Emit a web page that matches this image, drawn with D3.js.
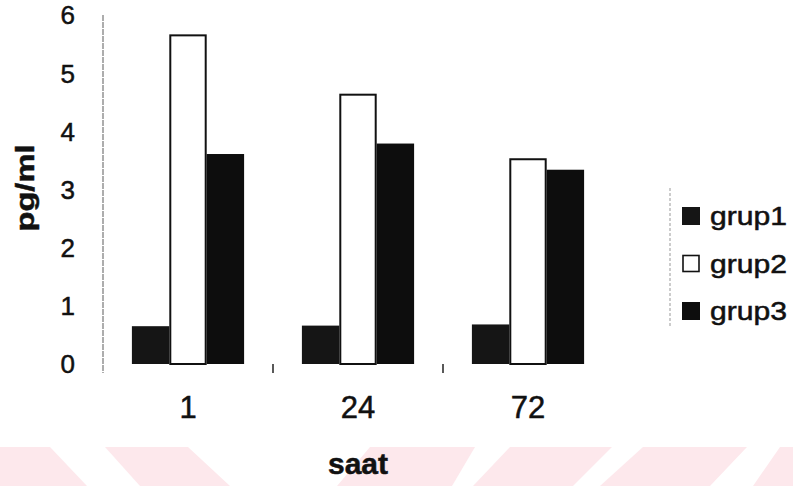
<!DOCTYPE html>
<html>
<head>
<meta charset="utf-8">
<script src="https://cdn.jsdelivr.net/npm/d3@7/dist/d3.min.js"></script>
<style>
  html, body { margin: 0; padding: 0; background: #fff; }
  svg { display: block; }
  text { font-family: "Liberation Sans", Arial, sans-serif; fill: #111; stroke: #111; stroke-width: 0.5px; }
</style>
</head>
<body>
<svg id="chart" width="793" height="486"></svg>
<script>
// Categories (hours) and the three group series, pg/ml
const saat = ["1", "24", "72"];
const grup1 = [0.65, 0.66, 0.68];
const grup2 = [5.65, 4.63, 3.52];
const grup3 = [3.61, 3.79, 3.34];
const seriesNames = ["grup1", "grup2", "grup3"];
const yTicks = [0, 1, 2, 3, 4, 5, 6];

const svg = d3.select("#chart");

// Light striped band along the bottom of the page
const band = svg.append("g").attr("class", "band");
band.append("rect").attr("x", 0).attr("y", 447).attr("width", 793).attr("height", 39).attr("fill", "#fde8ec");
const gaps = [
  [[50, 447], [105, 447], [140, 486], [87, 486]],
  [[188, 447], [370, 447], [337, 486], [230, 486]],
  [[475, 447], [510, 447], [473, 486], [452, 486]],
  [[612, 447], [643, 447], [600, 486], [573, 486]],
  [[747, 447], [780, 447], [753, 486], [710, 486]]
];
band.selectAll("polygon").data(gaps).join("polygon")
  .attr("points", d => d.map(p => p.join(",")).join(" "))
  .attr("fill", "#fff");

const plot = { left: 103, right: 613, top: 15, bottom: 364 };

const x0 = d3.scaleBand().domain(saat)
  .range([plot.left, plot.right]).paddingInner(0.34).paddingOuter(0.17);
const x1 = d3.scaleBand().domain(seriesNames).range([0, x0.bandwidth()]);
const y = d3.scaleLinear().domain([0, 6]).range([plot.bottom, plot.top]);

const fills = { grup1: "#151515", grup2: "#fff", grup3: "#0d0d0d" };
const rows = saat.map((s, i) => ({
  saat: s,
  values: [
    { key: "grup1", v: grup1[i] },
    { key: "grup2", v: grup2[i] },
    { key: "grup3", v: grup3[i] }
  ]
}));

// Y axis line
svg.append("line")
  .attr("x1", plot.left).attr("x2", plot.left)
  .attr("y1", plot.top).attr("y2", plot.bottom + 9)
  .attr("stroke", "#777").attr("stroke-width", 1.2)
  .attr("stroke-dasharray", "6,1");

// Y tick labels
svg.append("g").selectAll("text").data(yTicks).join("text")
  .attr("x", 75).attr("y", d => y(d)).attr("dy", "0.36em")
  .attr("text-anchor", "end").attr("font-size", 26)
  .text(d => d);

// Category separators below the baseline
const seps = saat.slice(1).map(s => x0(s) - x0.step() * x0.paddingInner() / 2);
svg.append("g").selectAll("line").data(seps).join("line")
  .attr("x1", d => d).attr("x2", d => d)
  .attr("y1", plot.bottom).attr("y2", plot.bottom + 9)
  .attr("stroke", "#222").attr("stroke-width", 1.5);

// Bars
const groups = svg.append("g").selectAll("g").data(rows).join("g")
  .attr("transform", d => `translate(${x0(d.saat)},0)`);
groups.selectAll("rect").data(d => d.values).join("rect")
  .attr("x", d => x1(d.key) + (d.key === "grup2" ? 1 : 0))
  .attr("y", d => y(d.v))
  .attr("width", d => x1.bandwidth() - (d.key === "grup2" ? 2 : 0))
  .attr("height", d => plot.bottom - y(d.v))
  .attr("fill", d => fills[d.key])
  .attr("stroke", d => d.key === "grup2" ? "#111" : "none")
  .attr("stroke-width", 2);

// Category labels
svg.append("g").selectAll("text").data(saat).join("text")
  .attr("x", d => x0(d) + x0.bandwidth() / 2)
  .attr("y", 418).attr("text-anchor", "middle")
  .attr("font-size", 31)
  .text(d => d);

// Axis titles
svg.append("text")
  .attr("x", x0("24") + x0.bandwidth() / 2).attr("y", 474)
  .attr("text-anchor", "middle").attr("font-size", 30).attr("font-weight", "bold")
  .text("saat");

svg.append("text")
  .attr("transform", "translate(34,188) rotate(-90)")
  .attr("text-anchor", "middle").attr("font-size", 26).attr("font-weight", "bold")
  .attr("textLength", 87).attr("lengthAdjust", "spacingAndGlyphs")
  .text("pg/ml");

// Legend
const legend = svg.append("g");
legend.append("line")
  .attr("x1", 670).attr("x2", 670).attr("y1", 188).attr("y2", 327)
  .attr("stroke", "#999").attr("stroke-width", 1).attr("stroke-dasharray", "3,2");
const items = legend.selectAll("g").data(seriesNames).join("g")
  .attr("transform", (d, i) => `translate(682,${207 + i * 47.5})`);
items.append("rect")
  .attr("x", d => d === "grup2" ? 1 : 0).attr("y", d => d === "grup2" ? 1 : 0)
  .attr("width", d => d === "grup2" ? 16 : 18).attr("height", d => d === "grup2" ? 16 : 18)
  .attr("fill", d => fills[d])
  .attr("stroke", d => d === "grup2" ? "#111" : "none").attr("stroke-width", 1.6);
items.append("text")
  .attr("x", 28).attr("y", 18)
  .attr("font-size", 25)
  .attr("textLength", 77).attr("lengthAdjust", "spacingAndGlyphs")
  .text(d => d);
</script>
</body>
</html>
